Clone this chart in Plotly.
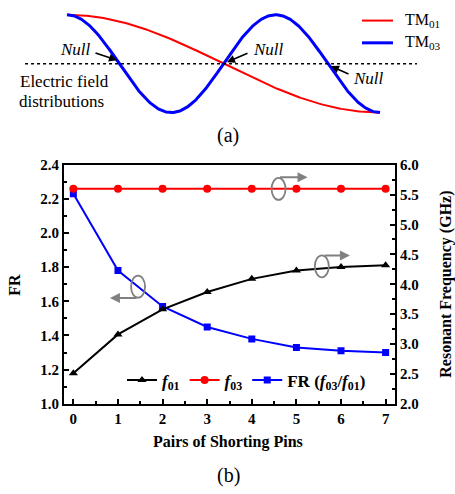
import numpy as np
import plotly.graph_objects as go

# ---------------- data ----------------
pins = [0, 1, 2, 3, 4, 5, 6, 7]
f01 = [2.51, 3.16, 3.58, 3.87, 4.09, 4.23, 4.29, 4.32]      # GHz (right axis)
f03 = [5.60, 5.60, 5.60, 5.60, 5.60, 5.60, 5.60, 5.60]      # GHz (right axis)
fr = [2.23, 1.78, 1.57, 1.45, 1.38, 1.33, 1.31, 1.30]       # ratio (left axis)

# schematic field distributions (panel a): TM01 ~ cos(pi t), TM03 ~ cos(3 pi t)
t = np.linspace(0, 1, 301)
tm01 = np.cos(np.pi * t)
tm03 = np.cos(3 * np.pi * t)

W, H = 455, 494
FONT = "Liberation Serif"

fig = go.Figure()

# ---------- panel (a) ----------
fig.add_trace(go.Scatter(x=t, y=tm01, mode="lines", showlegend=False,
                         line=dict(color="#ff0000", width=2), xaxis="x3", yaxis="y3"))
fig.add_trace(go.Scatter(x=t, y=tm03, mode="lines", showlegend=False,
                         line=dict(color="#0000ff", width=3), xaxis="x3", yaxis="y3"))
fig.add_trace(go.Scatter(x=[-0.134, 1.118], y=[0, 0], mode="lines", showlegend=False,
                         line=dict(color="black", width=1.5, dash="dot"), xaxis="x3", yaxis="y3"))

# ---------- panel (b) ----------
fig.add_trace(go.Scatter(x=pins, y=f01, mode="lines+markers", name="<b><i>f</i><sub>01</sub></b>",
                         line=dict(color="black", width=2),
                         marker=dict(symbol="triangle-up", size=8, color="black"),
                         yaxis="y2"))
fig.add_trace(go.Scatter(x=pins, y=f03, mode="lines+markers", name="<b><i>f</i><sub>03</sub></b>",
                         line=dict(color="#ff0000", width=2),
                         marker=dict(symbol="circle", size=8, color="#ff0000"),
                         yaxis="y2"))
fig.add_trace(go.Scatter(x=pins, y=fr, mode="lines+markers",
                         name="<b>FR (<i>f</i><sub>03</sub>/<i>f</i><sub>01</sub>)</b>",
                         line=dict(color="#0000ff", width=2),
                         marker=dict(symbol="square", size=7, color="#0000ff"),
                         yaxis="y"))

# layout geometry (pixels -> paper)
L, R, T, B = 64, 395, 162, 409
def px(xp): return xp / W
def py(yp): return 1 - yp / H

tickfont = dict(family=FONT, size=15, color="black", weight="bold")
axis_common = dict(showline=True, linecolor="black", linewidth=2, ticks="inside",
                   ticklen=5, tickwidth=1.5, tickcolor="black", showgrid=False,
                   zeroline=False, tickfont=tickfont)

fig.update_layout(
    width=W, height=H, margin=dict(l=0, r=0, t=0, b=0),
    paper_bgcolor="white", plot_bgcolor="white",
    font=dict(family=FONT, color="black"),
    xaxis=dict(domain=[px(L), px(R)], range=[-0.21, 7.21], dtick=1, tick0=0,
               mirror=True, minor=dict(dtick=0.5, tick0=0, ticks="inside", ticklen=3,
                                       tickcolor="black"),
               **axis_common),
    yaxis=dict(domain=[py(B), py(T)], range=[1.0, 2.4], dtick=0.2, tickformat=".1f",
               minor=dict(dtick=0.1, ticks="inside", ticklen=3, tickcolor="black"),
               **axis_common),
    yaxis2=dict(overlaying="y", side="right", range=[2.0, 6.0], dtick=0.5, tickformat=".1f",
                minor=dict(dtick=0.25, ticks="inside", ticklen=3, tickcolor="black"),
                **axis_common),
    xaxis3=dict(domain=[0, 1], range=[-67 / 313, (W - 67) / 313], visible=False,
                anchor="y3"),
    yaxis3=dict(domain=[py(140), 1], range=[1 - (140 - 7) / 50.5, 1 + 7 / 50.5],
                visible=False, anchor="x3"),
    legend=dict(orientation="h", x=px(122), y=py(385), xanchor="left", yanchor="middle",
                bgcolor="rgba(0,0,0,0)", font=dict(family=FONT, size=17, color="black"),
                itemwidth=30, tracegroupgap=0),
    showlegend=True,
)

ann = []
def C(**kw):
    d = dict(showarrow=False, xanchor="center", yanchor="middle")
    d.update(kw)
    return d

# ---- panel (a) text ----
def tx(xp): return (xp - 67) / 313
def ty(yp): return 1 - (yp - 7) / 50.5

for (x_t, y_t), (xa, ya), (xh, yh) in [
    ((75, 43), (94, 46), (117, 54)),
    ((268, 43), (249, 46), (227, 56)),
    ((368, 73), (350, 69), (331, 60)),
]:
    ann.append(C(x=tx(x_t), y=ty(y_t), xref="x3", yref="y3", text="<i>Null</i>",
                 font=dict(family=FONT, size=17, color="black")))
    ann.append(dict(x=tx(xh), y=ty(yh), ax=tx(xa), ay=ty(ya), xref="x3", yref="y3",
                    axref="x3", ayref="y3", text="", showarrow=True, arrowhead=2,
                    arrowsize=1, arrowwidth=1.6, arrowcolor="black"))
ann.append(C(x=px(64), y=py(76), xref="paper", yref="paper", text="Electric field",
             font=dict(family=FONT, size=17)))
ann.append(C(x=px(62), y=py(97), xref="paper", yref="paper", text="distributions",
             font=dict(family=FONT, size=17)))
ann.append(C(x=px(228), y=py(132), xref="paper", yref="paper", text="(a)",
             font=dict(family=FONT, size=20)))

# TM legend (panel a)
ann.append(dict(x=px(403), y=py(13), xref="paper", yref="paper", text="TM<sub>01</sub>",
                showarrow=False, xanchor="left", yanchor="middle",
                font=dict(family=FONT, size=16)))
ann.append(dict(x=px(403), y=py(36), xref="paper", yref="paper", text="TM<sub>03</sub>",
                showarrow=False, xanchor="left", yanchor="middle",
                font=dict(family=FONT, size=16)))

# ---- panel (b) titles ----
ann.append(C(x=px(228), y=py(449), xref="paper", yref="paper",
             text="<b>Pairs of Shorting Pins</b>", font=dict(family=FONT, size=16)))
ann.append(C(x=px(15), y=py(286), xref="paper", yref="paper", text="<b>FR</b>",
             textangle=-90, font=dict(family=FONT, size=16)))
ann.append(C(x=px(446), y=py(286), xref="paper", yref="paper",
             text="<b>Resonant Frequency (GHz)</b>", textangle=-90,
             font=dict(family=FONT, size=16)))
ann.append(C(x=px(228), y=py(483), xref="paper", yref="paper", text="(b)",
             font=dict(family=FONT, size=20)))

# ---- gray indicator arrows ----
GRAY = "#808080"
ann.append(dict(x=0.82, y=1.62, ax=1.45, ay=1.62, xref="x", yref="y", axref="x", ayref="y",
                text="", showarrow=True, arrowhead=2, arrowsize=1, arrowwidth=2,
                arrowcolor=GRAY))
ann.append(dict(x=5.25, y=5.79, ax=4.60, ay=5.79, xref="x", yref="y2", axref="x", ayref="y2",
                text="", showarrow=True, arrowhead=2, arrowsize=1, arrowwidth=2,
                arrowcolor=GRAY))
ann.append(dict(x=6.20, y=4.48, ax=5.60, ay=4.48, xref="x", yref="y2", axref="x", ayref="y2",
                text="", showarrow=True, arrowhead=2, arrowsize=1, arrowwidth=2,
                arrowcolor=GRAY))
fig.update_layout(annotations=ann)

shapes = []
for cx, cy, yr in [(1.45, 1.686, "y"), (4.60, 5.595, "y2"), (5.57, 4.30, "y2")]:
    shapes.append(dict(type="circle", xref="x", yref=yr, xsizemode="pixel",
                       ysizemode="pixel", xanchor=cx, yanchor=cy,
                       x0=-7, x1=7, y0=-11, y1=11,
                       line=dict(color=GRAY, width=1.8)))
# TM legend line samples
shapes.append(dict(type="line", xref="paper", yref="paper", x0=px(362), x1=px(393),
                   y0=py(13), y1=py(13), line=dict(color="#ff0000", width=2)))
shapes.append(dict(type="line", xref="paper", yref="paper", x0=px(362), x1=px(393),
                   y0=py(36), y1=py(36), line=dict(color="#0000ff", width=3)))
fig.update_layout(shapes=shapes)

fig.write_html("out.html")
